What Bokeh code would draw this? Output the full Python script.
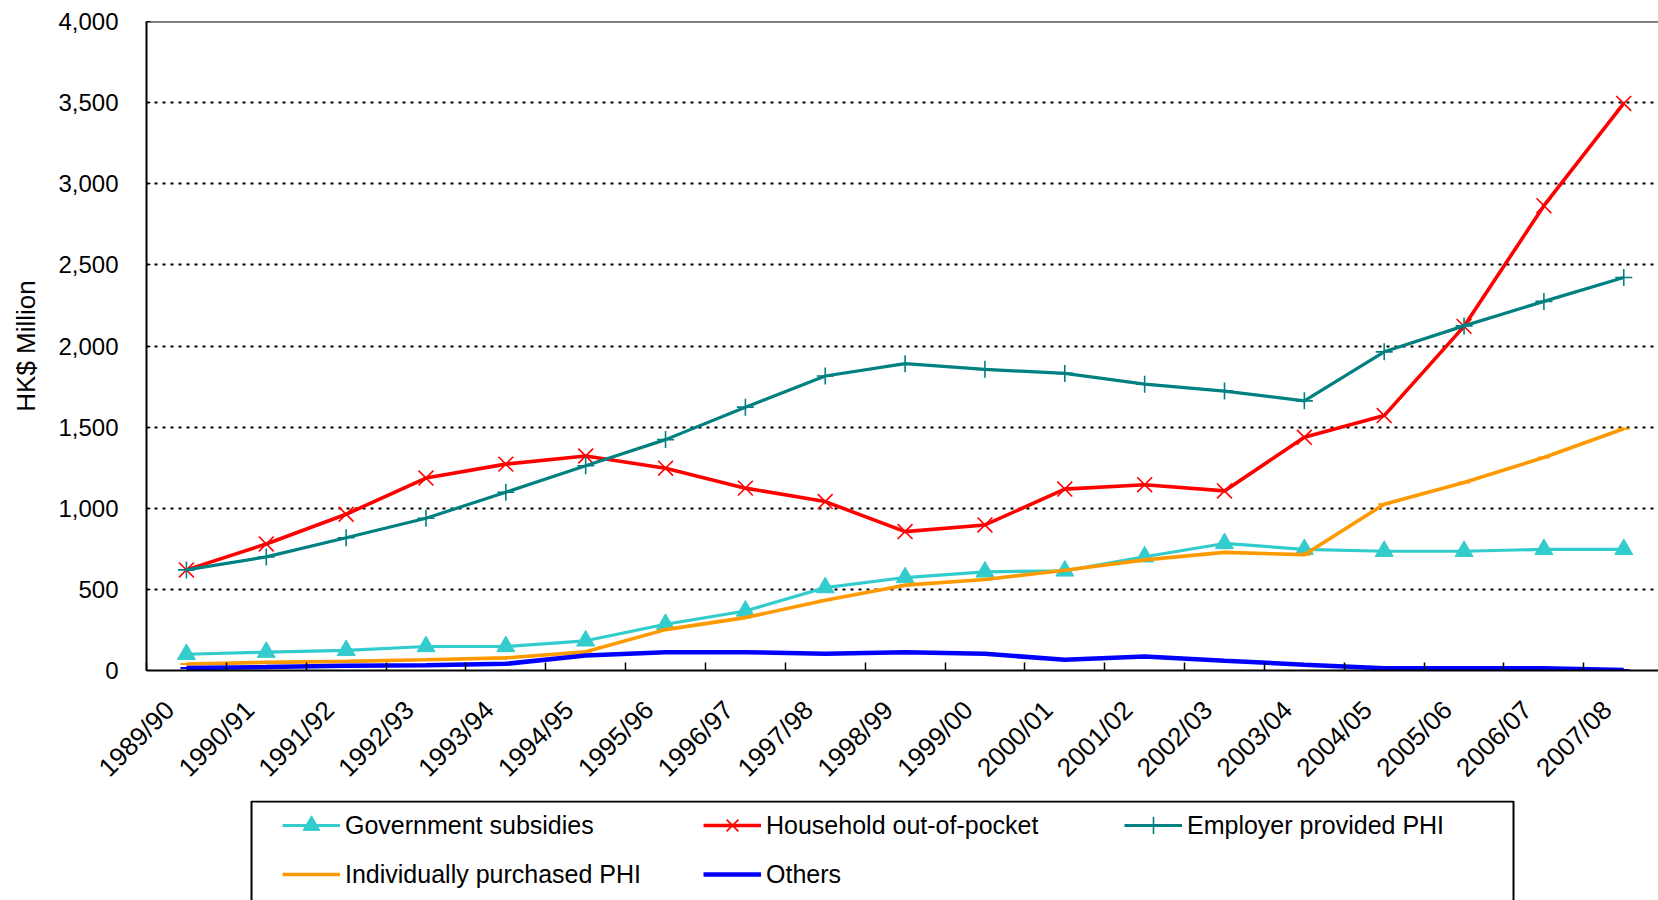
import math
from bokeh.plotting import figure
from bokeh.layouts import column
from bokeh.models import (Range1d, FixedTicker, NumeralTickFormatter, Legend, LegendItem, Span,
                          BoxAnnotation)
from bokeh.embed import file_html
from bokeh.resources import INLINE

categories = ["1989/90", "1990/91", "1991/92", "1992/93", "1993/94", "1994/95", "1995/96",
              "1996/97", "1997/98", "1998/99", "1999/00", "2000/01", "2001/02", "2002/03",
              "2003/04", "2004/05", "2005/06", "2006/07", "2007/08"]

government_subsidies = [100, 113, 124, 148, 148, 183, 285, 367, 511, 573, 608, 614, 701, 783, 747, 735, 735, 747, 747]
household_out_of_pocket = [620, 780, 963, 1186, 1272, 1322, 1247, 1124, 1041, 856, 897, 1118, 1145, 1107, 1437, 1571, 2121, 2865, 3495]
employer_provided_phi = [620, 700, 818, 938, 1099, 1262, 1423, 1623, 1815, 1891, 1856, 1831, 1765, 1722, 1662, 1964, 2124, 2275, 2422]
individually_purchased_phi = [40, 50, 56, 66, 78, 115, 252, 326, 433, 526, 561, 618, 682, 728, 714, 1025, 1159, 1313, 1490]
others = [16, 21, 30, 33, 41, 92, 113, 113, 103, 113, 103, 66, 87, 60, 36, 14, 14, 14, 3]

y_ticks = [0, 500, 1000, 1500, 2000, 2500, 3000, 3500, 4000]

FONT = "Liberation Sans"
idx = list(range(len(categories)))
LABEL_SHIFT = 0.21   # rotated labels sit slightly left of the category centre, as in the original

p = figure(width=1658, height=800, output_backend="svg", toolbar_location=None,
           x_range=Range1d(-0.5, 18.435), y_range=Range1d(0, 4000),
           min_border_left=146, min_border_right=0, min_border_top=21, min_border_bottom=130)
p.outline_line_color = None
p.background_fill_color = "white"
p.border_fill_color = "white"
p.xgrid.grid_line_color = None
p.ygrid.grid_line_color = "black"
p.ygrid.grid_line_dash = "3 5"
p.ygrid.grid_line_width = 2
p.ygrid.ticker = FixedTicker(ticks=y_ticks)

# x axis: labels near category centres, tick marks between categories
label_pos = [i - LABEL_SHIFT for i in idx]
xa = p.xaxis[0]
xa.ticker = FixedTicker(ticks=label_pos, minor_ticks=[i - 0.5 for i in range(len(categories) + 1)])
xa.major_label_overrides = {pos: c for pos, c in zip(label_pos, categories)}
xa.major_tick_line_color = None
xa.minor_tick_line_color = "black"
xa.minor_tick_line_width = 1.5
xa.minor_tick_in = 8
xa.minor_tick_out = 0
xa.major_label_orientation = math.pi / 4
xa.major_label_standoff = 29
xa.major_label_text_font = FONT
xa.major_label_text_font_size = "26px"
xa.major_label_text_color = "black"
xa.axis_line_color = "black"
xa.axis_line_width = 2

ya = p.yaxis[0]
ya.ticker = FixedTicker(ticks=y_ticks)
ya.formatter = NumeralTickFormatter(format="0,0")
ya.major_tick_in = 4
ya.major_tick_out = 0
ya.major_tick_line_color = "black"
ya.minor_tick_line_color = None
ya.major_label_standoff = 28
ya.major_label_text_font = FONT
ya.major_label_text_font_size = "24px"
ya.major_label_text_color = "black"
ya.axis_line_color = "black"
ya.axis_line_width = 2
ya.axis_label = "HK$ Million"
ya.axis_label_text_font = FONT
ya.axis_label_text_font_size = "26px"
ya.axis_label_text_font_style = "normal"
ya.axis_label_text_color = "black"
ya.axis_label_standoff = 14

p.add_layout(Span(location=4000, dimension="width", line_color="black", line_width=2))

series = [
    ("Government subsidies", government_subsidies, "#33CCCC", 3.2, "triangle", 18, 1),
    ("Household out-of-pocket", household_out_of_pocket, "#FF0000", 3.6, "x", 21, 1.6),
    ("Employer provided PHI", employer_provided_phi, "#008080", 3.2, "cross", 17, 1.6),
    ("Individually purchased PHI", individually_purchased_phi, "#FF9900", 3.6, "dash", 12, 2),
    ("Others", others, "#0000FF", 4.5, "dash", 12, 2),
]

for name, vals, color, lw, marker, msize, mlw in series:
    p.line(idx, vals, line_color=color, line_width=lw)
    p.scatter(idx, vals, marker=marker, size=msize, line_color=color,
              fill_color=color, line_width=mlw)

# legend strip below the chart; its x range is in page pixels (frame aligned with the chart's)
lf = figure(width=1658, height=100, output_backend="svg", toolbar_location=None,
            x_axis_type=None, y_axis_type=None,
            x_range=Range1d(146, 1658), y_range=Range1d(0, 100),
            min_border_left=146, min_border_right=0, min_border_top=0, min_border_bottom=0)
lf.outline_line_color = None
lf.background_fill_color = "white"
lf.border_fill_color = "white"

items = []
for name, vals, color, lw, marker, msize, mlw in series:
    # same series, styled identically; they fall outside this strip's range, only the legend shows them
    r1 = lf.line(idx, vals, line_color=color, line_width=lw)
    r2 = lf.scatter(idx, vals, marker=marker, size=msize, line_color=color,
                    fill_color=color, line_width=mlw)
    items.append(LegendItem(label=name, renderers=[r1, r2]))

legend = Legend(items=items, ncols=3, orientation="horizontal",
                location=(136, 5), margin=0,
                glyph_width=58, glyph_height=42, label_width=351, label_height=42,
                label_standoff=5, spacing=7, padding=4,
                label_text_font=FONT, label_text_font_size="25px", label_text_color="black",
                border_line_color=None, background_fill_alpha=0.0)
lf.add_layout(legend, "center")
lf.add_layout(BoxAnnotation(left=251, right=1513, top=99, bottom=-20,
                            fill_alpha=0, line_color="black", line_alpha=1.0, line_width=2))

open("out.html", "w").write(file_html(column(p, lf, spacing=0), INLINE))
